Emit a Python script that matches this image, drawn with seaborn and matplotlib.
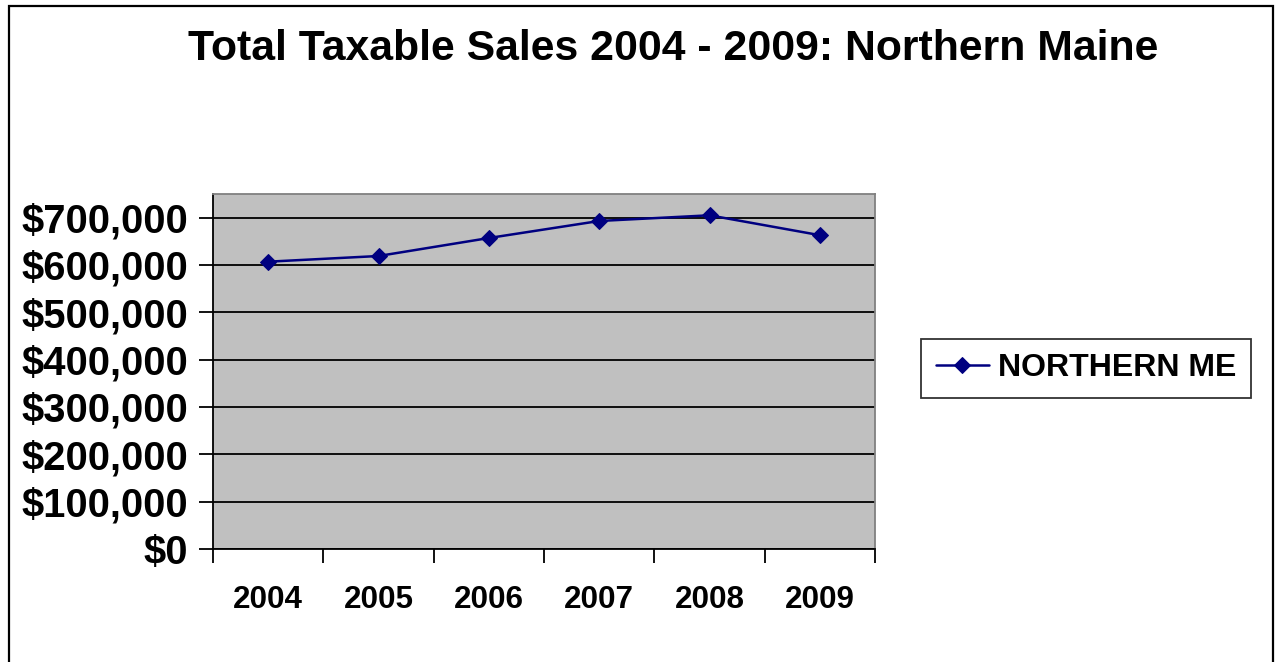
import matplotlib
matplotlib.use("Agg")
import matplotlib.pyplot as plt
from matplotlib.patches import Rectangle
from matplotlib.ticker import FuncFormatter, MultipleLocator, FixedLocator
import seaborn as sns
import pandas as pd

years = ["2004", "2005", "2006", "2007", "2008", "2009"]
sales = [607000, 619000, 657000, 693000, 705000, 663000]
series_name = "NORTHERN ME"
title = "Total Taxable Sales 2004 - 2009: Northern Maine"

sns.set_theme(style="white")
plt.rcParams["font.family"] = ["Liberation Sans", "DejaVu Sans"]
plt.rcParams["font.weight"] = "bold"
for key in ("text.color", "axes.labelcolor", "xtick.color", "ytick.color"):
    plt.rcParams[key] = "black"

df = pd.DataFrame({"year": years, "sales": sales})

fig = plt.figure(figsize=(12.75, 6.62), dpi=100)
fig.patch.set_facecolor("white")

ax = fig.add_axes([213 / 1275, 1 - 549 / 662, (875 - 213) / 1275, (549 - 194) / 662])
ax.set_facecolor("#C0C0C0")

sns.lineplot(data=df, x="year", y="sales", ax=ax, color="#000080", linewidth=1.8,
             marker="D", markersize=8, markeredgecolor="#000080", label=series_name,
             legend=False, sort=False)

# category axis: labels centred in each slot, ticks at slot boundaries
ax.set_xlim(-0.5, len(years) - 0.5)
ax.set_xticks(range(len(years)))
ax.set_xticklabels(years, fontsize=22.6, fontweight="bold")
ax.xaxis.set_minor_locator(FixedLocator([i - 0.5 for i in range(len(years) + 1)]))
ax.tick_params(axis="x", which="major", length=0, pad=26)
ax.tick_params(axis="x", which="minor", length=10, width=1.3, color="black", direction="out", bottom=True)

ax.set_ylim(0, 750000)
ax.yaxis.set_major_locator(MultipleLocator(100000))
ax.yaxis.set_major_formatter(FuncFormatter(lambda v, p: f"${v:,.0f}"))
ax.tick_params(axis="y", length=10, width=1.3, color="black", direction="out", left=True, pad=8,
               labelsize=28.7)
for lbl in ax.get_yticklabels():
    lbl.set_fontweight("bold")

ax.grid(axis="y", color="black", linewidth=1.3)
ax.set_axisbelow(True)
for side in ("left", "bottom"):
    ax.spines[side].set_color("black")
    ax.spines[side].set_linewidth(1.3)
for side in ("top", "right"):
    ax.spines[side].set_color("#808080")
    ax.spines[side].set_linewidth(1.3)
ax.set_xlabel("")
ax.set_ylabel("")

handles, labels = ax.get_legend_handles_labels()
leg = fig.legend(handles, labels, loc="center", bbox_to_anchor=(1086 / 1275, 1 - 368.5 / 662),
                 frameon=True, fancybox=False, edgecolor="black",
                 prop={"weight": "bold", "size": 23}, handlelength=1.66, borderpad=0.45,
                 handletextpad=0.28, borderaxespad=0)
leg.get_frame().set_linewidth(1.3)

fig.text(673 / 1275, 1 - 49 / 662, title, ha="center", va="center", fontsize=30.8, fontweight="bold")

fig.patches.append(Rectangle((9 / 1275, -0.1), 1264 / 1275, 1.1 - 6 / 662, transform=fig.transFigure,
                             fill=False, edgecolor="black", linewidth=1.6))

fig.savefig("out.png", dpi=100, facecolor="white")
